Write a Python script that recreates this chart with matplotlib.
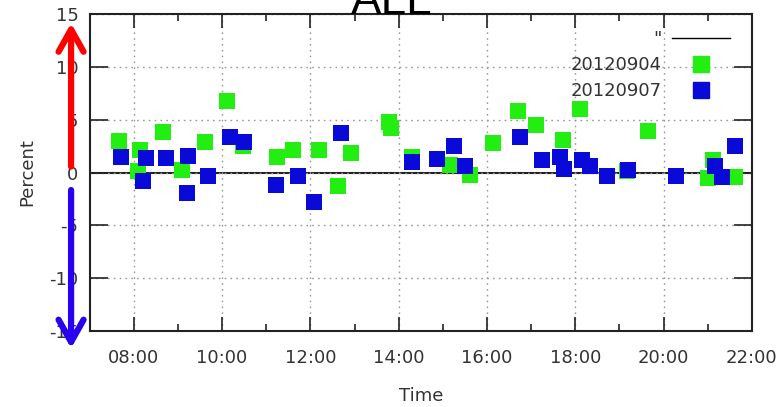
import matplotlib
matplotlib.use("Agg")
import matplotlib.pyplot as plt
import matplotlib.transforms as mtransforms
from matplotlib.ticker import MultipleLocator, FuncFormatter
from matplotlib.lines import Line2D

plt.rcParams["axes.unicode_minus"] = False

# Sample times and percent changes for each day
times_0904 = ["07:40", "08:08", "08:06", "08:40", "09:06", "09:37", "10:07", "10:28",
              "11:15", "11:36", "12:12", "12:38", "12:55", "13:47", "13:50", "14:18",
              "15:10", "15:37", "16:08", "16:42", "17:07", "17:43", "18:07", "19:10",
              "19:39", "21:07", "21:00", "21:37"]
pct_0904 = [3.0, 2.1, 0.1, 3.8, 0.2, 2.9, 6.8, 2.5,
            1.5, 2.1, 2.1, -1.3, 1.8, 4.8, 4.2, 1.5,
            0.75, -0.2, 2.8, 5.8, 4.5, 3.1, 6.0, 0.1,
            3.9, 1.2, -0.5, -0.4]

times_0907 = ["07:43", "08:17", "08:13", "08:44", "09:14", "09:12", "09:41", "10:11",
              "10:30", "11:13", "11:43", "12:05", "12:42", "14:18", "14:52", "15:15",
              "15:30", "16:45", "17:15", "17:39", "17:45", "18:09", "18:20", "18:43",
              "19:12", "20:17", "21:10", "21:20", "21:37"]
pct_0907 = [1.5, 1.4, -0.8, 1.4, 1.6, -1.9, -0.35, 3.4,
            2.9, -1.2, -0.35, -2.8, 3.7, 1.0, 1.3, 2.5,
            0.6, 3.4, 1.2, 1.5, 0.3, 1.2, 0.6, -0.3,
            0.2, -0.3, 0.6, -0.4, 2.5]

series_labels = ["20120904", "20120907"]
y_ticks = [-15, -10, -5, 0, 5, 10, 15]


def to_hours(t):
    h, m = t.split(":")
    return int(h) + int(m) / 60.0


x_0904 = [to_hours(t) for t in times_0904]
x_0907 = [to_hours(t) for t in times_0907]

GREEN = "#22ee11"
BLUE = "#0a0ad8"
LABEL_GRAY = "#333333"

fig = plt.figure(figsize=(7.8, 4.07), dpi=100)
ax = fig.add_axes([0.1149, 0.1867, 0.8491, 0.7789])

ax.set_xlim(7, 22)
ax.set_ylim(-15, 15)

ax.grid(True, which="major", color="#999999", linestyle=(0, (1.2, 3)), linewidth=1)
ax.axhline(0, color="#222222", linewidth=1.5, zorder=1)

ax.scatter(x_0904, pct_0904, marker="s", s=125, color=GREEN, linewidths=0, zorder=3)
ax.scatter(x_0907, pct_0907, marker="s", s=125, color=BLUE, linewidths=0, zorder=4)

ax.xaxis.set_major_locator(MultipleLocator(2))
ax.xaxis.set_minor_locator(MultipleLocator(1))
ax.xaxis.set_major_formatter(FuncFormatter(lambda v, p: f"{int(round(v)):02d}:00"))
ax.set_yticks(y_ticks)

ax.tick_params(which="both", direction="in", top=True, right=True, colors="#222222",
               labelcolor=LABEL_GRAY, labelsize=13)
ax.tick_params(axis="x", which="major", length=10, width=1.2, pad=13)
ax.tick_params(axis="x", which="minor", length=5, width=1.2)
ax.tick_params(axis="y", which="major", length=13, width=1.2, pad=8)
for sp in ax.spines.values():
    sp.set_linewidth(1.5)
    sp.set_color("#222222")

ax.set_xlabel("Time", fontsize=13, color=LABEL_GRAY, labelpad=14)
ax.set_ylabel("Percent", fontsize=13, color=LABEL_GRAY, labelpad=9)

fig.text(0.502, 1 - 14 / 407, "ALL", fontsize=33, ha="center", va="baseline",
         family="Liberation Sans", color="black")

handles = [
    Line2D([], [], color="black", linewidth=1),
    Line2D([], [], marker="s", markersize=11, linestyle="none", color=GREEN),
    Line2D([], [], marker="s", markersize=11, linestyle="none", color=BLUE),
]
ax.legend(handles, ['"'] + series_labels, loc="upper right",
          bbox_to_anchor=(0.967, 0.95), frameon=False, markerfirst=False,
          fontsize=13, handlelength=3.2, handletextpad=0.6, labelspacing=0.45,
          borderpad=0, borderaxespad=0, labelcolor=LABEL_GRAY)

# Direction arrows beside the y axis
trans = mtransforms.blended_transform_factory(ax.transAxes, ax.transData)
ax.annotate("", xy=(-0.028, 14.4), xytext=(-0.028, 0.3), xycoords=trans, textcoords=trans,
            annotation_clip=False,
            arrowprops=dict(arrowstyle="->,head_length=0.8,head_width=0.45",
                            mutation_scale=20, color="#ff0000", lw=4.5))
ax.annotate("", xy=(-0.028, -16.9), xytext=(-0.028, -1.4), xycoords=trans, textcoords=trans,
            annotation_clip=False,
            arrowprops=dict(arrowstyle="->,head_length=0.8,head_width=0.45",
                            mutation_scale=20, color="#2a00f0", lw=4.5))

fig.savefig("out.png", dpi=100)
